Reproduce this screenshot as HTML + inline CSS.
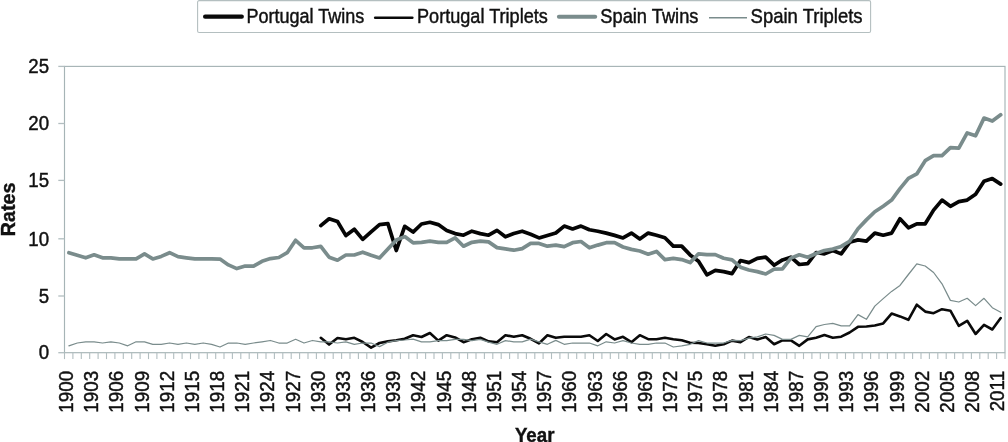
<!DOCTYPE html>
<html><head><meta charset="utf-8"><title>Rates</title>
<style>
html,body{margin:0;padding:0;background:#fff;}
body{width:1008px;height:442px;position:relative;overflow:hidden;}
.t{font-family:"Liberation Sans",Arial,sans-serif;fill:#111;stroke:#111;stroke-width:0.45px;}
.b{font-family:"Liberation Sans",Arial,sans-serif;font-weight:bold;fill:#111;stroke:#111;stroke-width:0.4px;}
</style></head><body>
<svg width="1008" height="442" viewBox="0 0 1008 442" style="position:absolute;left:0;top:0">
<rect x="64.5" y="66.4" width="940.5" height="286.29999999999995" fill="none" stroke="#a6b4b6" stroke-width="1.15"/>
<line x1="58.3" y1="352.7" x2="64.5" y2="352.7" stroke="#b2bec0" stroke-width="1.3"/>
<text transform="translate(49.10,359.45) scale(0.92,1)" text-anchor="end" class="t" font-size="20.3">0</text>
<line x1="58.3" y1="296.0" x2="64.5" y2="296.0" stroke="#b2bec0" stroke-width="1.3"/>
<text transform="translate(49.10,302.55) scale(0.92,1)" text-anchor="end" class="t" font-size="20.3">5</text>
<line x1="58.3" y1="238.8" x2="64.5" y2="238.8" stroke="#b2bec0" stroke-width="1.3"/>
<text transform="translate(49.10,245.55) scale(0.92,1)" text-anchor="end" class="t" font-size="20.3">10</text>
<line x1="58.3" y1="180.4" x2="64.5" y2="180.4" stroke="#b2bec0" stroke-width="1.3"/>
<text transform="translate(49.10,187.05) scale(0.92,1)" text-anchor="end" class="t" font-size="20.3">15</text>
<line x1="58.3" y1="123.5" x2="64.5" y2="123.5" stroke="#b2bec0" stroke-width="1.3"/>
<text transform="translate(49.10,129.95) scale(0.92,1)" text-anchor="end" class="t" font-size="20.3">20</text>
<line x1="58.3" y1="66.4" x2="64.5" y2="66.4" stroke="#b2bec0" stroke-width="1.3"/>
<text transform="translate(49.10,72.85) scale(0.92,1)" text-anchor="end" class="t" font-size="20.3">25</text>
<line x1="64.5" y1="352.7" x2="64.5" y2="359.1" stroke="#b2bec0" stroke-width="1.1"/>
<line x1="72.9" y1="352.7" x2="72.9" y2="359.1" stroke="#b2bec0" stroke-width="1.1"/>
<line x1="81.3" y1="352.7" x2="81.3" y2="359.1" stroke="#b2bec0" stroke-width="1.1"/>
<line x1="89.7" y1="352.7" x2="89.7" y2="359.1" stroke="#b2bec0" stroke-width="1.1"/>
<line x1="98.1" y1="352.7" x2="98.1" y2="359.1" stroke="#b2bec0" stroke-width="1.1"/>
<line x1="106.5" y1="352.7" x2="106.5" y2="359.1" stroke="#b2bec0" stroke-width="1.1"/>
<line x1="114.9" y1="352.7" x2="114.9" y2="359.1" stroke="#b2bec0" stroke-width="1.1"/>
<line x1="123.3" y1="352.7" x2="123.3" y2="359.1" stroke="#b2bec0" stroke-width="1.1"/>
<line x1="131.7" y1="352.7" x2="131.7" y2="359.1" stroke="#b2bec0" stroke-width="1.1"/>
<line x1="140.1" y1="352.7" x2="140.1" y2="359.1" stroke="#b2bec0" stroke-width="1.1"/>
<line x1="148.5" y1="352.7" x2="148.5" y2="359.1" stroke="#b2bec0" stroke-width="1.1"/>
<line x1="156.9" y1="352.7" x2="156.9" y2="359.1" stroke="#b2bec0" stroke-width="1.1"/>
<line x1="165.3" y1="352.7" x2="165.3" y2="359.1" stroke="#b2bec0" stroke-width="1.1"/>
<line x1="173.7" y1="352.7" x2="173.7" y2="359.1" stroke="#b2bec0" stroke-width="1.1"/>
<line x1="182.1" y1="352.7" x2="182.1" y2="359.1" stroke="#b2bec0" stroke-width="1.1"/>
<line x1="190.5" y1="352.7" x2="190.5" y2="359.1" stroke="#b2bec0" stroke-width="1.1"/>
<line x1="198.9" y1="352.7" x2="198.9" y2="359.1" stroke="#b2bec0" stroke-width="1.1"/>
<line x1="207.3" y1="352.7" x2="207.3" y2="359.1" stroke="#b2bec0" stroke-width="1.1"/>
<line x1="215.7" y1="352.7" x2="215.7" y2="359.1" stroke="#b2bec0" stroke-width="1.1"/>
<line x1="224.0" y1="352.7" x2="224.0" y2="359.1" stroke="#b2bec0" stroke-width="1.1"/>
<line x1="232.4" y1="352.7" x2="232.4" y2="359.1" stroke="#b2bec0" stroke-width="1.1"/>
<line x1="240.8" y1="352.7" x2="240.8" y2="359.1" stroke="#b2bec0" stroke-width="1.1"/>
<line x1="249.2" y1="352.7" x2="249.2" y2="359.1" stroke="#b2bec0" stroke-width="1.1"/>
<line x1="257.6" y1="352.7" x2="257.6" y2="359.1" stroke="#b2bec0" stroke-width="1.1"/>
<line x1="266.0" y1="352.7" x2="266.0" y2="359.1" stroke="#b2bec0" stroke-width="1.1"/>
<line x1="274.4" y1="352.7" x2="274.4" y2="359.1" stroke="#b2bec0" stroke-width="1.1"/>
<line x1="282.8" y1="352.7" x2="282.8" y2="359.1" stroke="#b2bec0" stroke-width="1.1"/>
<line x1="291.2" y1="352.7" x2="291.2" y2="359.1" stroke="#b2bec0" stroke-width="1.1"/>
<line x1="299.6" y1="352.7" x2="299.6" y2="359.1" stroke="#b2bec0" stroke-width="1.1"/>
<line x1="308.0" y1="352.7" x2="308.0" y2="359.1" stroke="#b2bec0" stroke-width="1.1"/>
<line x1="316.4" y1="352.7" x2="316.4" y2="359.1" stroke="#b2bec0" stroke-width="1.1"/>
<line x1="324.8" y1="352.7" x2="324.8" y2="359.1" stroke="#b2bec0" stroke-width="1.1"/>
<line x1="333.2" y1="352.7" x2="333.2" y2="359.1" stroke="#b2bec0" stroke-width="1.1"/>
<line x1="341.6" y1="352.7" x2="341.6" y2="359.1" stroke="#b2bec0" stroke-width="1.1"/>
<line x1="350.0" y1="352.7" x2="350.0" y2="359.1" stroke="#b2bec0" stroke-width="1.1"/>
<line x1="358.4" y1="352.7" x2="358.4" y2="359.1" stroke="#b2bec0" stroke-width="1.1"/>
<line x1="366.8" y1="352.7" x2="366.8" y2="359.1" stroke="#b2bec0" stroke-width="1.1"/>
<line x1="375.2" y1="352.7" x2="375.2" y2="359.1" stroke="#b2bec0" stroke-width="1.1"/>
<line x1="383.6" y1="352.7" x2="383.6" y2="359.1" stroke="#b2bec0" stroke-width="1.1"/>
<line x1="392.0" y1="352.7" x2="392.0" y2="359.1" stroke="#b2bec0" stroke-width="1.1"/>
<line x1="400.4" y1="352.7" x2="400.4" y2="359.1" stroke="#b2bec0" stroke-width="1.1"/>
<line x1="408.8" y1="352.7" x2="408.8" y2="359.1" stroke="#b2bec0" stroke-width="1.1"/>
<line x1="417.2" y1="352.7" x2="417.2" y2="359.1" stroke="#b2bec0" stroke-width="1.1"/>
<line x1="425.6" y1="352.7" x2="425.6" y2="359.1" stroke="#b2bec0" stroke-width="1.1"/>
<line x1="434.0" y1="352.7" x2="434.0" y2="359.1" stroke="#b2bec0" stroke-width="1.1"/>
<line x1="442.4" y1="352.7" x2="442.4" y2="359.1" stroke="#b2bec0" stroke-width="1.1"/>
<line x1="450.8" y1="352.7" x2="450.8" y2="359.1" stroke="#b2bec0" stroke-width="1.1"/>
<line x1="459.2" y1="352.7" x2="459.2" y2="359.1" stroke="#b2bec0" stroke-width="1.1"/>
<line x1="467.6" y1="352.7" x2="467.6" y2="359.1" stroke="#b2bec0" stroke-width="1.1"/>
<line x1="476.0" y1="352.7" x2="476.0" y2="359.1" stroke="#b2bec0" stroke-width="1.1"/>
<line x1="484.4" y1="352.7" x2="484.4" y2="359.1" stroke="#b2bec0" stroke-width="1.1"/>
<line x1="492.8" y1="352.7" x2="492.8" y2="359.1" stroke="#b2bec0" stroke-width="1.1"/>
<line x1="501.2" y1="352.7" x2="501.2" y2="359.1" stroke="#b2bec0" stroke-width="1.1"/>
<line x1="509.6" y1="352.7" x2="509.6" y2="359.1" stroke="#b2bec0" stroke-width="1.1"/>
<line x1="518.0" y1="352.7" x2="518.0" y2="359.1" stroke="#b2bec0" stroke-width="1.1"/>
<line x1="526.4" y1="352.7" x2="526.4" y2="359.1" stroke="#b2bec0" stroke-width="1.1"/>
<line x1="534.8" y1="352.7" x2="534.8" y2="359.1" stroke="#b2bec0" stroke-width="1.1"/>
<line x1="543.1" y1="352.7" x2="543.1" y2="359.1" stroke="#b2bec0" stroke-width="1.1"/>
<line x1="551.5" y1="352.7" x2="551.5" y2="359.1" stroke="#b2bec0" stroke-width="1.1"/>
<line x1="559.9" y1="352.7" x2="559.9" y2="359.1" stroke="#b2bec0" stroke-width="1.1"/>
<line x1="568.3" y1="352.7" x2="568.3" y2="359.1" stroke="#b2bec0" stroke-width="1.1"/>
<line x1="576.7" y1="352.7" x2="576.7" y2="359.1" stroke="#b2bec0" stroke-width="1.1"/>
<line x1="585.1" y1="352.7" x2="585.1" y2="359.1" stroke="#b2bec0" stroke-width="1.1"/>
<line x1="593.5" y1="352.7" x2="593.5" y2="359.1" stroke="#b2bec0" stroke-width="1.1"/>
<line x1="601.9" y1="352.7" x2="601.9" y2="359.1" stroke="#b2bec0" stroke-width="1.1"/>
<line x1="610.3" y1="352.7" x2="610.3" y2="359.1" stroke="#b2bec0" stroke-width="1.1"/>
<line x1="618.7" y1="352.7" x2="618.7" y2="359.1" stroke="#b2bec0" stroke-width="1.1"/>
<line x1="627.1" y1="352.7" x2="627.1" y2="359.1" stroke="#b2bec0" stroke-width="1.1"/>
<line x1="635.5" y1="352.7" x2="635.5" y2="359.1" stroke="#b2bec0" stroke-width="1.1"/>
<line x1="643.9" y1="352.7" x2="643.9" y2="359.1" stroke="#b2bec0" stroke-width="1.1"/>
<line x1="652.3" y1="352.7" x2="652.3" y2="359.1" stroke="#b2bec0" stroke-width="1.1"/>
<line x1="660.7" y1="352.7" x2="660.7" y2="359.1" stroke="#b2bec0" stroke-width="1.1"/>
<line x1="669.1" y1="352.7" x2="669.1" y2="359.1" stroke="#b2bec0" stroke-width="1.1"/>
<line x1="677.5" y1="352.7" x2="677.5" y2="359.1" stroke="#b2bec0" stroke-width="1.1"/>
<line x1="685.9" y1="352.7" x2="685.9" y2="359.1" stroke="#b2bec0" stroke-width="1.1"/>
<line x1="694.3" y1="352.7" x2="694.3" y2="359.1" stroke="#b2bec0" stroke-width="1.1"/>
<line x1="702.7" y1="352.7" x2="702.7" y2="359.1" stroke="#b2bec0" stroke-width="1.1"/>
<line x1="711.1" y1="352.7" x2="711.1" y2="359.1" stroke="#b2bec0" stroke-width="1.1"/>
<line x1="719.5" y1="352.7" x2="719.5" y2="359.1" stroke="#b2bec0" stroke-width="1.1"/>
<line x1="727.9" y1="352.7" x2="727.9" y2="359.1" stroke="#b2bec0" stroke-width="1.1"/>
<line x1="736.3" y1="352.7" x2="736.3" y2="359.1" stroke="#b2bec0" stroke-width="1.1"/>
<line x1="744.7" y1="352.7" x2="744.7" y2="359.1" stroke="#b2bec0" stroke-width="1.1"/>
<line x1="753.1" y1="352.7" x2="753.1" y2="359.1" stroke="#b2bec0" stroke-width="1.1"/>
<line x1="761.5" y1="352.7" x2="761.5" y2="359.1" stroke="#b2bec0" stroke-width="1.1"/>
<line x1="769.9" y1="352.7" x2="769.9" y2="359.1" stroke="#b2bec0" stroke-width="1.1"/>
<line x1="778.3" y1="352.7" x2="778.3" y2="359.1" stroke="#b2bec0" stroke-width="1.1"/>
<line x1="786.7" y1="352.7" x2="786.7" y2="359.1" stroke="#b2bec0" stroke-width="1.1"/>
<line x1="795.1" y1="352.7" x2="795.1" y2="359.1" stroke="#b2bec0" stroke-width="1.1"/>
<line x1="803.5" y1="352.7" x2="803.5" y2="359.1" stroke="#b2bec0" stroke-width="1.1"/>
<line x1="811.9" y1="352.7" x2="811.9" y2="359.1" stroke="#b2bec0" stroke-width="1.1"/>
<line x1="820.3" y1="352.7" x2="820.3" y2="359.1" stroke="#b2bec0" stroke-width="1.1"/>
<line x1="828.7" y1="352.7" x2="828.7" y2="359.1" stroke="#b2bec0" stroke-width="1.1"/>
<line x1="837.1" y1="352.7" x2="837.1" y2="359.1" stroke="#b2bec0" stroke-width="1.1"/>
<line x1="845.5" y1="352.7" x2="845.5" y2="359.1" stroke="#b2bec0" stroke-width="1.1"/>
<line x1="853.8" y1="352.7" x2="853.8" y2="359.1" stroke="#b2bec0" stroke-width="1.1"/>
<line x1="862.2" y1="352.7" x2="862.2" y2="359.1" stroke="#b2bec0" stroke-width="1.1"/>
<line x1="870.6" y1="352.7" x2="870.6" y2="359.1" stroke="#b2bec0" stroke-width="1.1"/>
<line x1="879.0" y1="352.7" x2="879.0" y2="359.1" stroke="#b2bec0" stroke-width="1.1"/>
<line x1="887.4" y1="352.7" x2="887.4" y2="359.1" stroke="#b2bec0" stroke-width="1.1"/>
<line x1="895.8" y1="352.7" x2="895.8" y2="359.1" stroke="#b2bec0" stroke-width="1.1"/>
<line x1="904.2" y1="352.7" x2="904.2" y2="359.1" stroke="#b2bec0" stroke-width="1.1"/>
<line x1="912.6" y1="352.7" x2="912.6" y2="359.1" stroke="#b2bec0" stroke-width="1.1"/>
<line x1="921.0" y1="352.7" x2="921.0" y2="359.1" stroke="#b2bec0" stroke-width="1.1"/>
<line x1="929.4" y1="352.7" x2="929.4" y2="359.1" stroke="#b2bec0" stroke-width="1.1"/>
<line x1="937.8" y1="352.7" x2="937.8" y2="359.1" stroke="#b2bec0" stroke-width="1.1"/>
<line x1="946.2" y1="352.7" x2="946.2" y2="359.1" stroke="#b2bec0" stroke-width="1.1"/>
<line x1="954.6" y1="352.7" x2="954.6" y2="359.1" stroke="#b2bec0" stroke-width="1.1"/>
<line x1="963.0" y1="352.7" x2="963.0" y2="359.1" stroke="#b2bec0" stroke-width="1.1"/>
<line x1="971.4" y1="352.7" x2="971.4" y2="359.1" stroke="#b2bec0" stroke-width="1.1"/>
<line x1="979.8" y1="352.7" x2="979.8" y2="359.1" stroke="#b2bec0" stroke-width="1.1"/>
<line x1="988.2" y1="352.7" x2="988.2" y2="359.1" stroke="#b2bec0" stroke-width="1.1"/>
<line x1="996.6" y1="352.7" x2="996.6" y2="359.1" stroke="#b2bec0" stroke-width="1.1"/>
<line x1="1005.0" y1="352.7" x2="1005.0" y2="359.1" stroke="#b2bec0" stroke-width="1.1"/>
<text transform="translate(73.00,370.90) rotate(-90) scale(0.96,1)" text-anchor="end" class="t" font-size="19.6">1900</text>
<text transform="translate(98.17,370.90) rotate(-90) scale(0.96,1)" text-anchor="end" class="t" font-size="19.6">1903</text>
<text transform="translate(123.34,370.90) rotate(-90) scale(0.96,1)" text-anchor="end" class="t" font-size="19.6">1906</text>
<text transform="translate(148.51,370.90) rotate(-90) scale(0.96,1)" text-anchor="end" class="t" font-size="19.6">1909</text>
<text transform="translate(173.68,370.90) rotate(-90) scale(0.96,1)" text-anchor="end" class="t" font-size="19.6">1912</text>
<text transform="translate(198.85,370.90) rotate(-90) scale(0.96,1)" text-anchor="end" class="t" font-size="19.6">1915</text>
<text transform="translate(224.02,370.90) rotate(-90) scale(0.96,1)" text-anchor="end" class="t" font-size="19.6">1918</text>
<text transform="translate(249.19,370.90) rotate(-90) scale(0.96,1)" text-anchor="end" class="t" font-size="19.6">1921</text>
<text transform="translate(274.36,370.90) rotate(-90) scale(0.96,1)" text-anchor="end" class="t" font-size="19.6">1924</text>
<text transform="translate(299.53,370.90) rotate(-90) scale(0.96,1)" text-anchor="end" class="t" font-size="19.6">1927</text>
<text transform="translate(324.70,370.90) rotate(-90) scale(0.96,1)" text-anchor="end" class="t" font-size="19.6">1930</text>
<text transform="translate(349.87,370.90) rotate(-90) scale(0.96,1)" text-anchor="end" class="t" font-size="19.6">1933</text>
<text transform="translate(375.04,370.90) rotate(-90) scale(0.96,1)" text-anchor="end" class="t" font-size="19.6">1936</text>
<text transform="translate(400.21,370.90) rotate(-90) scale(0.96,1)" text-anchor="end" class="t" font-size="19.6">1939</text>
<text transform="translate(425.38,370.90) rotate(-90) scale(0.96,1)" text-anchor="end" class="t" font-size="19.6">1942</text>
<text transform="translate(450.55,370.90) rotate(-90) scale(0.96,1)" text-anchor="end" class="t" font-size="19.6">1945</text>
<text transform="translate(475.72,370.90) rotate(-90) scale(0.96,1)" text-anchor="end" class="t" font-size="19.6">1948</text>
<text transform="translate(500.89,370.90) rotate(-90) scale(0.96,1)" text-anchor="end" class="t" font-size="19.6">1951</text>
<text transform="translate(526.06,370.90) rotate(-90) scale(0.96,1)" text-anchor="end" class="t" font-size="19.6">1954</text>
<text transform="translate(551.23,370.90) rotate(-90) scale(0.96,1)" text-anchor="end" class="t" font-size="19.6">1957</text>
<text transform="translate(576.40,370.90) rotate(-90) scale(0.96,1)" text-anchor="end" class="t" font-size="19.6">1960</text>
<text transform="translate(601.57,370.90) rotate(-90) scale(0.96,1)" text-anchor="end" class="t" font-size="19.6">1963</text>
<text transform="translate(626.74,370.90) rotate(-90) scale(0.96,1)" text-anchor="end" class="t" font-size="19.6">1966</text>
<text transform="translate(651.91,370.90) rotate(-90) scale(0.96,1)" text-anchor="end" class="t" font-size="19.6">1969</text>
<text transform="translate(677.08,370.90) rotate(-90) scale(0.96,1)" text-anchor="end" class="t" font-size="19.6">1972</text>
<text transform="translate(702.25,370.90) rotate(-90) scale(0.96,1)" text-anchor="end" class="t" font-size="19.6">1975</text>
<text transform="translate(727.42,370.90) rotate(-90) scale(0.96,1)" text-anchor="end" class="t" font-size="19.6">1978</text>
<text transform="translate(752.59,370.90) rotate(-90) scale(0.96,1)" text-anchor="end" class="t" font-size="19.6">1981</text>
<text transform="translate(777.76,370.90) rotate(-90) scale(0.96,1)" text-anchor="end" class="t" font-size="19.6">1984</text>
<text transform="translate(802.93,370.90) rotate(-90) scale(0.96,1)" text-anchor="end" class="t" font-size="19.6">1987</text>
<text transform="translate(828.10,370.90) rotate(-90) scale(0.96,1)" text-anchor="end" class="t" font-size="19.6">1990</text>
<text transform="translate(853.27,370.90) rotate(-90) scale(0.96,1)" text-anchor="end" class="t" font-size="19.6">1993</text>
<text transform="translate(878.44,370.90) rotate(-90) scale(0.96,1)" text-anchor="end" class="t" font-size="19.6">1996</text>
<text transform="translate(903.61,370.90) rotate(-90) scale(0.96,1)" text-anchor="end" class="t" font-size="19.6">1999</text>
<text transform="translate(928.78,370.90) rotate(-90) scale(0.96,1)" text-anchor="end" class="t" font-size="19.6">2002</text>
<text transform="translate(953.95,370.90) rotate(-90) scale(0.96,1)" text-anchor="end" class="t" font-size="19.6">2005</text>
<text transform="translate(979.12,370.90) rotate(-90) scale(0.96,1)" text-anchor="end" class="t" font-size="19.6">2008</text>
<text transform="translate(1004.29,370.90) rotate(-90) scale(0.96,1)" text-anchor="end" class="t" font-size="19.6">2011</text>
<path d="M320.8,225.6 L329.1,218.8 L337.5,221.5 L345.9,235.6 L354.3,229.3 L362.7,239.4 L371.1,231.8 L379.5,224.6 L387.9,223.6 L396.3,250.5 L404.7,226.3 L413.1,232.1 L421.5,224.0 L429.9,222.3 L438.3,224.6 L446.7,230.4 L455.1,233.6 L463.5,235.2 L471.9,231.2 L480.3,233.6 L488.6,235.2 L497.0,230.4 L505.4,236.8 L513.8,233.5 L522.2,231.2 L530.6,234.3 L539.0,237.9 L547.4,235.4 L555.8,233.0 L564.2,226.1 L572.6,229.0 L581.0,226.1 L589.4,229.8 L597.8,231.2 L606.2,233.1 L614.6,235.4 L623.0,237.9 L631.4,233.1 L639.8,239.1 L648.2,233.1 L656.5,235.2 L664.9,237.7 L673.3,246.1 L681.7,246.1 L690.1,254.9 L698.5,261.2 L706.9,274.8 L715.3,270.4 L723.7,271.6 L732.1,273.6 L740.5,260.5 L748.9,262.6 L757.3,258.3 L765.7,257.2 L774.1,265.2 L782.5,259.9 L790.9,257.2 L799.3,264.5 L807.7,263.7 L816.1,252.5 L824.4,253.9 L832.8,250.5 L841.2,253.9 L849.6,242.3 L858.0,239.9 L866.4,241.2 L874.8,233.1 L883.2,235.2 L891.6,233.1 L900.0,218.8 L908.4,227.8 L916.8,223.8 L925.2,223.8 L933.6,210.1 L942.0,200.1 L950.4,206.3 L958.8,201.6 L967.2,200.1 L975.6,194.2 L984.0,181.3 L992.3,178.6 L1000.7,184.1" fill="none" stroke="#050505" stroke-width="3.7" stroke-linejoin="round" stroke-linecap="round"/>
<path d="M320.8,337.8 L329.1,344.6 L337.5,338.0 L345.9,339.2 L354.3,337.8 L362.7,342.0 L371.1,347.6 L379.5,343.0 L387.9,341.4 L396.3,340.3 L404.7,338.8 L413.1,335.2 L421.5,337.0 L429.9,333.0 L438.3,340.6 L446.7,335.2 L455.1,337.4 L463.5,342.2 L471.9,339.2 L480.3,337.8 L488.6,341.4 L497.0,342.2 L505.4,335.2 L513.8,336.8 L522.2,335.2 L530.6,338.8 L539.0,343.4 L547.4,335.2 L555.8,337.8 L564.2,336.8 L572.6,336.8 L581.0,336.8 L589.4,335.2 L597.8,341.0 L606.2,334.0 L614.6,339.4 L623.0,336.8 L631.4,342.2 L639.8,335.2 L648.2,339.2 L656.5,339.2 L664.9,337.8 L673.3,339.2 L681.7,340.3 L690.1,342.7 L698.5,343.0 L706.9,344.3 L715.3,345.8 L723.7,344.3 L732.1,340.6 L740.5,342.2 L748.9,337.0 L757.3,339.4 L765.7,337.0 L774.1,344.3 L782.5,340.4 L790.9,340.4 L799.3,345.8 L807.7,339.4 L816.1,337.8 L824.4,335.1 L832.8,337.7 L841.2,336.7 L849.6,332.5 L858.0,326.8 L866.4,326.5 L874.8,325.5 L883.2,323.4 L891.6,313.6 L900.0,316.4 L908.4,319.8 L916.8,304.7 L925.2,311.6 L933.6,313.2 L942.0,309.2 L950.4,310.7 L958.8,325.8 L967.2,320.8 L975.6,334.0 L984.0,324.8 L992.3,329.5 L1000.7,318.0" fill="none" stroke="#0a0a0a" stroke-width="2.6" stroke-linejoin="round" stroke-linecap="round"/>
<path d="M68.9,252.7 L77.3,255.3 L85.7,257.8 L94.1,254.8 L102.5,257.8 L110.9,257.8 L119.3,258.9 L127.7,258.9 L136.1,258.9 L144.5,253.9 L152.8,258.9 L161.2,256.4 L169.6,252.7 L178.0,256.7 L186.4,257.8 L194.8,258.9 L203.2,258.9 L211.6,258.9 L220.0,259.1 L228.4,264.9 L236.8,268.6 L245.2,266.1 L253.6,266.1 L262.0,261.3 L270.4,258.6 L278.8,257.5 L287.2,252.7 L295.6,240.3 L304.0,247.8 L312.4,247.8 L320.8,246.4 L329.1,257.2 L337.5,260.2 L345.9,255.0 L354.3,255.0 L362.7,252.2 L371.1,255.3 L379.5,258.0 L387.9,248.9 L396.3,240.0 L404.7,236.6 L413.1,242.8 L421.5,242.3 L429.9,241.1 L438.3,242.3 L446.7,242.3 L455.1,237.9 L463.5,246.2 L471.9,242.3 L480.3,241.1 L488.6,241.9 L497.0,247.6 L505.4,248.9 L513.8,250.2 L522.2,248.6 L530.6,243.4 L539.0,243.4 L547.4,246.2 L555.8,245.1 L564.2,246.6 L572.6,242.7 L581.0,241.5 L589.4,247.8 L597.8,245.1 L606.2,242.7 L614.6,242.7 L623.0,247.0 L631.4,249.4 L639.8,251.0 L648.2,254.2 L656.5,251.4 L664.9,259.6 L673.3,258.3 L681.7,259.6 L690.1,262.6 L698.5,253.8 L706.9,254.6 L715.3,254.6 L723.7,258.3 L732.1,259.9 L740.5,267.2 L748.9,270.0 L757.3,271.6 L765.7,274.0 L774.1,269.2 L782.5,268.8 L790.9,258.1 L799.3,254.8 L807.7,257.2 L816.1,253.5 L824.4,250.5 L832.8,249.1 L841.2,246.4 L849.6,241.2 L858.0,228.7 L866.4,219.9 L874.8,211.7 L883.2,206.2 L891.6,200.1 L900.0,188.7 L908.4,178.4 L916.8,173.9 L925.2,160.7 L933.6,155.6 L942.0,155.6 L950.4,147.6 L958.8,148.2 L967.2,132.9 L975.6,135.8 L984.0,118.1 L992.3,121.1 L1000.7,114.8" fill="none" stroke="#7a8c8c" stroke-width="3.7" stroke-linejoin="round" stroke-linecap="round"/>
<path d="M68.9,345.9 L77.3,343.0 L85.7,341.8 L94.1,341.8 L102.5,343.0 L110.9,341.8 L119.3,343.0 L127.7,345.8 L136.1,341.8 L144.5,341.8 L152.8,344.3 L161.2,344.3 L169.6,343.0 L178.0,344.3 L186.4,343.0 L194.8,344.3 L203.2,343.0 L211.6,344.3 L220.0,347.0 L228.4,343.0 L236.8,343.0 L245.2,344.3 L253.6,343.0 L262.0,341.8 L270.4,340.5 L278.8,343.0 L287.2,343.0 L295.6,339.3 L304.0,343.0 L312.4,340.5 L320.8,341.8 L329.1,341.8 L337.5,343.0 L345.9,341.8 L354.3,344.3 L362.7,343.0 L371.1,343.0 L379.5,346.6 L387.9,342.2 L396.3,340.6 L404.7,340.0 L413.1,339.2 L421.5,341.8 L429.9,341.8 L438.3,340.6 L446.7,340.6 L455.1,339.4 L463.5,339.4 L471.9,340.6 L480.3,339.4 L488.6,342.2 L497.0,344.3 L505.4,340.6 L513.8,341.8 L522.2,341.8 L530.6,339.2 L539.0,341.8 L547.4,344.3 L555.8,340.4 L564.2,344.3 L572.6,343.0 L581.0,343.0 L589.4,343.0 L597.8,345.8 L606.2,341.8 L614.6,343.0 L623.0,340.6 L631.4,343.0 L639.8,344.3 L648.2,344.3 L656.5,343.0 L664.9,343.0 L673.3,347.0 L681.7,345.8 L690.1,344.3 L698.5,340.6 L706.9,343.0 L715.3,343.0 L723.7,343.0 L732.1,340.3 L740.5,340.6 L748.9,338.2 L757.3,336.8 L765.7,334.0 L774.1,335.4 L782.5,339.4 L790.9,339.4 L799.3,335.4 L807.7,336.8 L816.1,326.6 L824.4,324.5 L832.8,323.4 L841.2,325.8 L849.6,325.8 L858.0,314.6 L866.4,319.3 L874.8,306.1 L883.2,298.6 L891.6,291.4 L900.0,285.4 L908.4,274.5 L916.8,263.8 L925.2,266.0 L933.6,272.5 L942.0,283.8 L950.4,300.4 L958.8,302.0 L967.2,298.3 L975.6,305.6 L984.0,298.3 L992.3,307.7 L1000.7,312.3" fill="none" stroke="#7a8c8c" stroke-width="1.25" stroke-linejoin="round" stroke-linecap="round"/>
<rect x="197.6" y="0.6" width="673" height="31.9" rx="1.5" fill="#fff" stroke="#b4bfc0" stroke-width="1.1"/>
<line x1="205.1" y1="16.7" x2="241.8" y2="16.7" stroke="#0a0a0a" stroke-width="4.2" stroke-linecap="round"/>
<text transform="translate(246.50,23.10) scale(0.892,1)" text-anchor="start" class="t" font-size="20.2">Portugal Twins</text>
<line x1="375.2" y1="17.8" x2="412.3" y2="17.8" stroke="#0a0a0a" stroke-width="2.6" stroke-linecap="round"/>
<text transform="translate(417.00,23.10) scale(0.897,1)" text-anchor="start" class="t" font-size="20.2">Portugal Triplets</text>
<line x1="558.9" y1="16.7" x2="595.2" y2="16.7" stroke="#7a8c8c" stroke-width="4" stroke-linecap="round"/>
<text transform="translate(600.30,23.10) scale(0.905,1)" text-anchor="start" class="t" font-size="20.2">Spain Twins</text>
<line x1="709.0" y1="17.8" x2="747.0" y2="17.8" stroke="#7a8c8c" stroke-width="1.5" stroke-linecap="butt"/>
<text transform="translate(750.60,23.10) scale(0.915,1)" text-anchor="start" class="t" font-size="20.2">Spain Triplets</text>
<text transform="translate(15.30,209.45) rotate(-90) scale(1.0,1)" text-anchor="middle" class="b" font-size="19.7">Rates</text>
<text transform="translate(534.65,441.60) scale(0.95,1)" text-anchor="middle" class="b" font-size="19.7">Year</text>
</svg>
</body></html>
